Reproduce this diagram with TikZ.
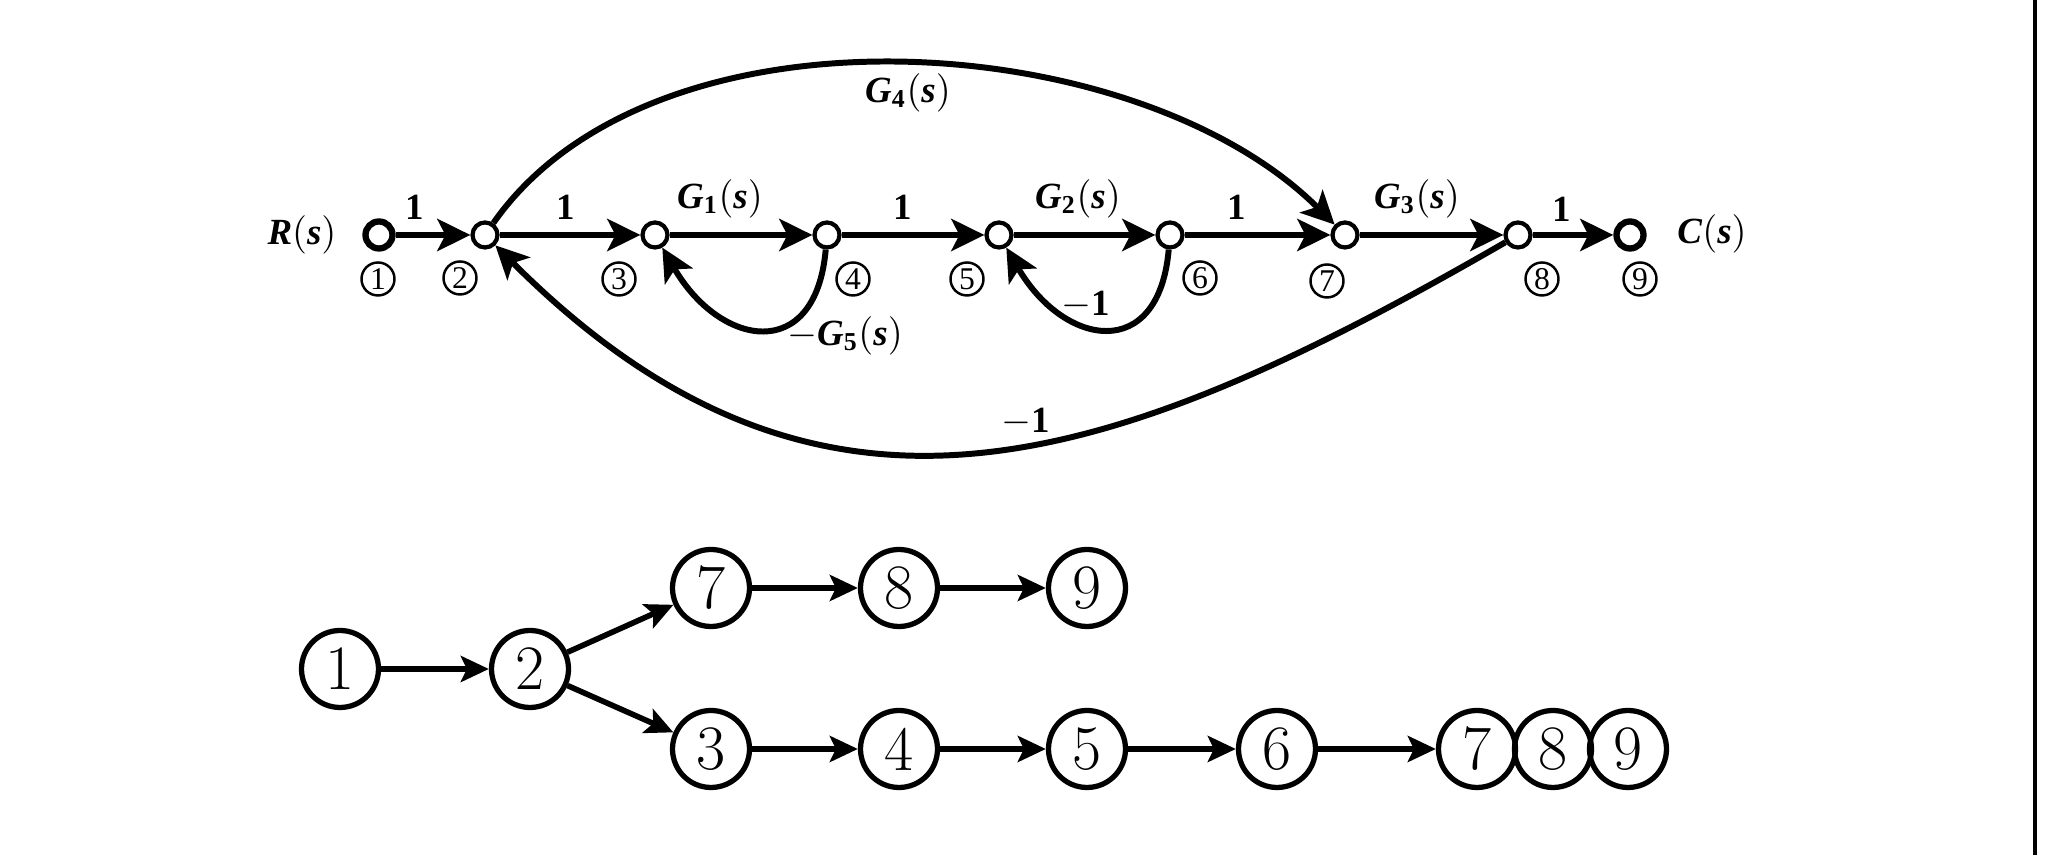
\documentclass[tikz,border=0pt]{standalone}
\usepackage{fontspec}
\newfontfamily\lab{Liberation Serif}
\usetikzlibrary{arrows.meta,positioning}
\newcommand{\tf}[2]{\textit{#1}\textsubscript{#2}$\bigl($\textit{s}$\bigr)$}
\newcommand{\sg}[1]{\textit{#1}$\bigl($\textit{s}$\bigr)$}
\begin{document}
\begin{tikzpicture}[
		sfnode/.style={circle,draw,line width=1.2pt,minimum size=0.25cm,inner sep=0pt,fill=white},
		endnode/.style={sfnode,line width=1.8pt,minimum size=0.27cm},
		num/.style={circle,draw,line width=0.7pt,inner sep=0.3pt,minimum size=0.33cm,font=\lab\fontsize{9}{10}\selectfont},
		gl/.style={inner sep=1pt,font=\lab\bfseries\fontsize{10.5}{12}\selectfont},
		flow/.style={line width=1.7pt,-{Stealth[length=3.3mm,width=3.2mm,inset=0.8mm]}},
		bnode/.style={circle,draw,line width=1.5pt,minimum size=0.77cm,inner sep=0pt,font=\fontsize{18}{20}\selectfont},
		bflow/.style={line width=1.6pt,-{Stealth[length=2.8mm,width=2.6mm,inset=0.6mm]}}]
			\useasboundingbox (0,0) rectangle (20.63,8.55);
			\draw[line width=1.1pt] (20.35,0) -- (20.35,8.55);
			% signal flow graph
			\node[endnode] (n1) at (3.79,6.20) {};
			\node[sfnode] (n2) at (4.85,6.20) {};
			\node[sfnode] (n3) at (6.55,6.20) {};
			\node[sfnode] (n4) at (8.27,6.20) {};
			\node[sfnode] (n5) at (9.99,6.20) {};
			\node[sfnode] (n6) at (11.70,6.20) {};
			\node[sfnode] (n7) at (13.45,6.20) {};
			\node[sfnode] (n8) at (15.18,6.20) {};
			\node[endnode] (n9) at (16.30,6.20) {};
			\foreach \a/\b in {n1/n2,n2/n3,n3/n4,n4/n5,n5/n6,n6/n7,n7/n8,n8/n9}
				\draw[flow] (\a) -- (\b);
			\draw[flow] (n2) to[out=55,in=135,looseness=0.85] (n7);
			\draw[flow] (n8) to[out=-150,in=-45,looseness=1.16] (n2);
			\draw[flow] (n4) to[out=-95,in=-60,looseness=1.8] (n3);
			\draw[flow] (n6) to[out=-95,in=-60,looseness=1.8] (n5);
			\node[gl] (rs) at (3.02,6.21) {\sg{R}};
			\node[gl] (cs) at (17.12,6.22) {\sg{C}};
			\node[gl] (g12) at (4.15,6.48) {1};
			\node[gl] (g23) at (5.66,6.48) {1};
			\node[gl] (g34) at (7.20,6.57) {\tf{G}{1}};
			\node[gl] (g45) at (9.03,6.48) {1};
			\node[gl] (g56) at (10.78,6.57) {\tf{G}{2}};
			\node[gl] (g67) at (12.37,6.48) {1};
			\node[gl] (g78) at (14.17,6.57) {\tf{G}{3}};
			\node[gl] (g89) at (15.62,6.46) {1};
			\node[gl] (g27) at (9.08,7.63) {\tf{G}{4}};
			\node[gl] (g43) at (8.45,5.20) {$-$\tf{G}{5}};
			\node[gl] (g65) at (10.86,5.50) {$-$1};
			\node[gl] (g82) at (10.26,4.33) {$-$1};
			\node[num] (l1) at (3.78,5.76) {1};
			\node[num] (l2) at (4.60,5.77) {2};
			\node[num] (l3) at (6.19,5.76) {3};
			\node[num] (l4) at (8.53,5.76) {4};
			\node[num] (l5) at (9.67,5.76) {5};
			\node[num] (l6) at (12.00,5.77) {6};
			\node[num] (l7) at (13.27,5.74) {7};
			\node[num] (l8) at (15.42,5.76) {8};
			\node[num] (l9) at (16.40,5.76) {9};
			% path tree
			\node[bnode] (b1) at (3.40,1.86) {1};
			\node[bnode] (b2) at (5.30,1.86) {2};
			\node[bnode] (b7) at (7.11,2.67) {7};
			\node[bnode] (b8) at (8.99,2.67) {8};
			\node[bnode] (b9) at (10.87,2.67) {9};
			\node[bnode] (b3) at (7.11,1.06) {3};
			\node[bnode] (b4) at (8.99,1.06) {4};
			\node[bnode] (b5) at (10.87,1.06) {5};
			\node[bnode] (b6) at (12.77,1.06) {6};
			\node[bnode] (c7) at (14.77,1.06) {7};
			\node[bnode] (c8) at (15.53,1.06) {8};
			\node[bnode] (c9) at (16.28,1.06) {9};
			\foreach \a/\b in {b1/b2,b2/b7,b2/b3,b7/b8,b8/b9,b3/b4,b4/b5,b5/b6,b6/c7}
				\draw[bflow] (\a) -- (\b);
		\end{tikzpicture}
\end{document}
